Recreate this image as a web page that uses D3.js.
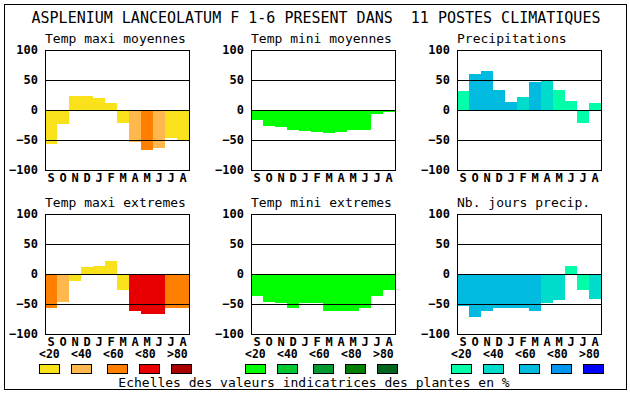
<!DOCTYPE html>
<html>
<head>
<meta charset="utf-8">
<script src="https://cdn.jsdelivr.net/npm/d3@7"></script>
<style>
  body { margin: 0; background: #fff; }
  text { font-family: "DejaVu Sans Mono", "Liberation Mono", monospace; }
</style>
</head>
<body>
<div id="chart"></div>
<script>
// chart data
var months = ["S", "O", "N", "D", "J", "F", "M", "A", "M", "J", "J", "A"];
var yTicks = [100, 50, 0, -50, -100];
var legendLabels = ["<20", "<40", "<60", "<80", ">80"];

var titles = ["Temp maxi moyennes", "Temp mini moyennes", "Precipitations",
              "Temp maxi extremes", "Temp mini extremes", "Nb. jours precip."];

var tmaxMoy   = [-57, -24, 23, 23, 20, 12, -21, -53, -66, -64, -46, -50];
var tminMoy   = [-16, -26, -28, -33, -35, -36, -38, -36, -34, -34, -6, -3];
var precip    = [32, 60, 65, 33, 13, 22, 47, 48, 33, 15, -21, 11];
var tmaxExt   = [-57, -46, -11, 11, 14, 22, -26, -62, -67, -67, -57, -57];
var tminExt   = [-36, -47, -49, -57, -49, -49, -62, -61, -62, -57, -37, -26];
var nbJours   = [-54, -71, -61, -56, -56, -56, -62, -49, -44, 14, -26, -41];

// colour class (0..4 = <20 .. >80) of each bar
var tmaxMoyCls = [0, 0, 0, 0, 0, 0, 0, 1, 2, 1, 0, 0];
var tminMoyCls = [0, 0, 0, 0, 0, 0, 0, 0, 0, 0, 0, 0];
var precipCls  = [0, 2, 2, 2, 2, 1, 2, 1, 0, 0, 0, 0];
var tmaxExtCls = [2, 1, 0, 0, 0, 0, 0, 3, 3, 3, 2, 2];
var tminExtCls = [0, 0, 0, 0, 0, 0, 0, 0, 0, 0, 0, 0];
var nbJoursCls = [2, 2, 2, 2, 2, 2, 2, 1, 1, 0, 0, 1];

var warmColors  = ["#f9e21c", "#ffb84e", "#ff8000", "#e80000", "#a80000"];
var greenColors = ["#00ff00", "#00c832", "#009a2e", "#007e00", "#00641e"];
var blueColors  = ["#00ffa8", "#00dccc", "#00bae0", "#0096ee", "#0000ff"];

var panels = [
  {title: titles[0], values: tmaxMoy, cls: tmaxMoyCls, colors: warmColors},
  {title: titles[1], values: tminMoy, cls: tminMoyCls, colors: greenColors},
  {title: titles[2], values: precip,  cls: precipCls,  colors: blueColors},
  {title: titles[3], values: tmaxExt, cls: tmaxExtCls, colors: warmColors},
  {title: titles[4], values: tminExt, cls: tminExtCls, colors: greenColors},
  {title: titles[5], values: nbJours, cls: nbJoursCls, colors: blueColors}
];

var width = 630, height = 394;
var plotW = 144, plotH = 120;
var colLeft = [45, 251, 457];
var rowTop = [50, 214];

var svg = d3.select("#chart")
  .append("svg")
    .attr("width", width)
    .attr("height", height);

// outer frame
svg.append("rect")
  .attr("x", 4.5).attr("y", 4.5)
  .attr("width", 622).attr("height", 385)
  .attr("fill", "none")
  .attr("stroke", "#000");

svg.append("text")
  .attr("x", 316).attr("y", 23)
  .attr("text-anchor", "middle")
  .attr("font-size", "15px")
  .attr("xml:space", "preserve")
  .style("white-space", "pre")
  .text("ASPLENIUM LANCEOLATUM F 1-6 PRESENT DANS  11 POSTES CLIMATIQUES");

var x = d3.scaleBand()
  .domain(d3.range(12))
  .range([0, plotW])
  .padding(0);

var y = d3.scaleLinear()
  .domain([-100, 100])
  .range([plotH, 0]);

panels.forEach(function(p, k) {
  var left = colLeft[k % 3], top = rowTop[Math.floor(k / 3)];
  var g = svg.append("g")
    .attr("transform", "translate(" + left + "," + top + ")");

  g.append("text")
    .attr("x", 0).attr("y", -7)
    .attr("font-size", "13px")
    .text(p.title);

  // bars
  g.selectAll("rect.bar")
    .data(p.values)
    .enter()
    .append("rect")
      .attr("class", "bar")
      .attr("x", function(d, i) { return x(i); })
      .attr("y", function(d) { return y(Math.max(0, d)); })
      .attr("width", x.bandwidth())
      .attr("height", function(d) { return Math.abs(y(d) - y(0)); })
      .attr("fill", function(d, i) { return p.colors[p.cls[i]]; })
      .attr("shape-rendering", "crispEdges");

  // horizontal grid lines drawn over the bars
  g.selectAll("line.grid")
    .data([50, 0, -50])
    .enter()
    .append("line")
      .attr("x1", 0).attr("x2", plotW)
      .attr("y1", function(d) { return y(d) + 0.5; })
      .attr("y2", function(d) { return y(d) + 0.5; })
      .attr("stroke", "#000");

  g.append("rect")
    .attr("x", 0.5).attr("y", 0.5)
    .attr("width", plotW).attr("height", plotH)
    .attr("fill", "none")
    .attr("stroke", "#000");

  var yAxis = g.append("g")
    .call(d3.axisLeft(y).tickValues(yTicks).tickSize(0).tickPadding(7));
  yAxis.select(".domain").remove();
  yAxis.selectAll("text")
    .attr("font-family", "'DejaVu Sans Mono', monospace")
    .attr("font-size", "12px")
    .attr("font-weight", "bold")
    .attr("fill", "#000");

  var xAxis = g.append("g")
    .attr("transform", "translate(0," + plotH + ")")
    .call(d3.axisBottom(x).tickFormat(function(i) { return months[i]; }).tickSize(0).tickPadding(3));
  xAxis.select(".domain").remove();
  xAxis.selectAll("text")
    .attr("font-family", "'DejaVu Sans Mono', monospace")
    .attr("font-size", "12px")
    .attr("font-weight", "bold")
    .attr("fill", "#000");
});

// legends under the bottom row
var legendSets = [warmColors, greenColors, blueColors];
var legendStep = d3.scaleLinear().domain([0, 1]).range([0, 32]);
legendSets.forEach(function(colors, k) {
  var lx = colLeft[k] - 6;
  var lg = svg.append("g").attr("transform", "translate(" + lx + ",0)");

  lg.selectAll("text")
    .data(legendLabels)
    .enter()
    .append("text")
      .attr("x", function(d, i) { return legendStep(i); })
      .attr("y", 358)
      .attr("font-size", "11.5px")
      .attr("font-weight", "bold")
      .text(function(d) { return d; });

  lg.selectAll("rect")
    .data(colors)
    .enter()
    .append("rect")
      .attr("x", function(d, i) { return legendStep(i) + (i >= 2 ? 4 : 0) + 0.5; })
      .attr("y", 364.5)
      .attr("width", 20).attr("height", 9)
      .attr("fill", function(d) { return d; })
      .attr("stroke", "#000");
});

svg.append("text")
  .attr("x", 314).attr("y", 387)
  .attr("text-anchor", "middle")
  .attr("font-size", "13px")
  .text("Echelles des valeurs indicatrices des plantes en %");
</script>
</body>
</html>
